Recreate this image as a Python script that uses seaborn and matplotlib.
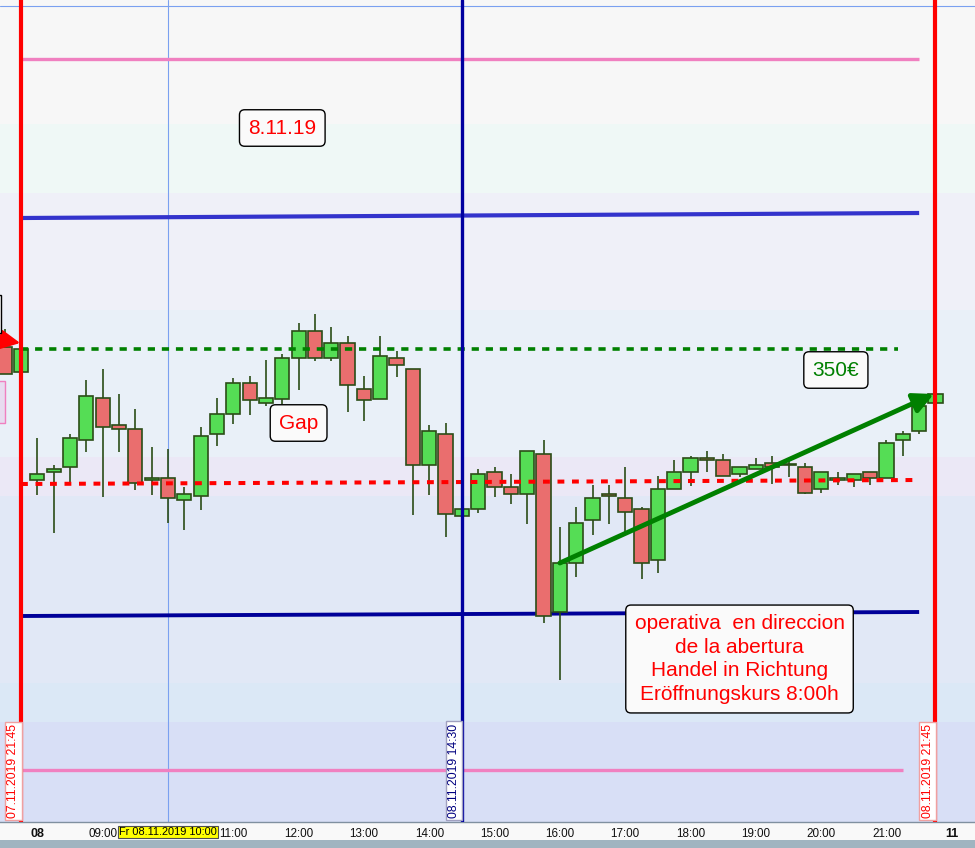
import matplotlib
matplotlib.use("Agg")
import matplotlib.pyplot as plt
import matplotlib.transforms as mtransforms
from matplotlib.patches import Rectangle
import seaborn as sns
import pandas as pd

sns.set_theme(style="white")
plt.rcParams['font.family'] = ['Liberation Sans', 'DejaVu Sans']

# 15 min candles: index 0 = 07.11.2019 21:45, index 1 = 08.11.2019 08:00 ... 56 = 08.11.2019 21:45
idx = list(range(-1, 57))
open_ = [13353, 13328, 13220, 13228, 13233, 13260, 13302, 13275, 13271, 13220,
         13222, 13200, 13204, 13266, 13286, 13317, 13297, 13301, 13342, 13369,
         13342, 13357, 13311, 13301, 13342, 13331, 13235, 13266, 13184, 13191,
         13228, 13213, 13206, 13246, 13088, 13137, 13180, 13206, 13202, 13191,
         13140, 13211, 13228, 13242, 13240, 13226, 13231, 13237, 13235, 13233,
         13211, 13220, 13220, 13228, 13222, 13260, 13269, 13297]
high = [13371, 13356, 13262, 13235, 13266, 13320, 13331, 13306, 13291, 13253,
        13251, 13213, 13273, 13302, 13322, 13324, 13340, 13346, 13377, 13386,
        13373, 13364, 13324, 13364, 13349, 13331, 13275, 13277, 13195, 13231,
        13233, 13226, 13249, 13260, 13173, 13193, 13215, 13215, 13233, 13193,
        13224, 13240, 13244, 13249, 13246, 13233, 13242, 13244, 13240, 13237,
        13228, 13228, 13226, 13228, 13260, 13269, 13300, 13306]
low = [13326, 13324, 13205, 13167, 13217, 13248, 13203, 13248, 13210, 13205,
       13177, 13170, 13190, 13254, 13276, 13285, 13294, 13296, 13310, 13339,
       13339, 13288, 13279, 13301, 13323, 13185, 13205, 13163, 13180, 13187,
       13203, 13196, 13176, 13077, 13020, 13123, 13165, 13176, 13168, 13121,
       13127, 13211, 13214, 13228, 13224, 13223, 13231, 13216, 13223, 13206,
       13207, 13215, 13213, 13215, 13222, 13244, 13266, 13296]
close = [13326, 13351, 13226, 13231, 13262, 13304, 13273, 13271, 13217, 13222,
         13202, 13206, 13264, 13286, 13317, 13300, 13302, 13342, 13369, 13342,
         13357, 13315, 13300, 13344, 13335, 13235, 13269, 13186, 13191, 13226,
         13213, 13206, 13249, 13084, 13137, 13177, 13202, 13204, 13188, 13137,
         13211, 13228, 13242, 13240, 13224, 13233, 13235, 13233, 13235, 13207,
         13228, 13222, 13226, 13222, 13257, 13266, 13294, 13306]

# background price bands
band_lo = [13576, 13507, 13390, 13243, 13204, 13017, 12978, 12878]
band_hi = [13700, 13576, 13507, 13390, 13243, 13204, 13017, 12978]
band_col = ['#f7f7f7', '#eff8f6', '#eff0f8', '#e9f0f8', '#ebe8f6', '#e1e8f6', '#dbe8f6', '#d8dff6']

tick_pos = [1, 5, 9, 13, 17, 21, 25, 29, 33, 37, 41, 45, 49, 53, 57]
tick_lab = ['08', '09:00', '', '11:00', '12:00', '13:00', '14:00', '15:00', '16:00',
            '17:00', '18:00', '19:00', '20:00', '21:00', '11']

df = pd.DataFrame({'i': idx, 'o': open_, 'h': high, 'l': low, 'c': close})
df['up'] = df['c'] >= df['o']

fig = plt.figure(figsize=(9.75, 8.48), dpi=100)
fig.patch.set_facecolor('#f9f9f9')
ax = fig.add_axes([0, 26 / 848, 1, 822 / 848])
ax.set_xlim(-1.286, 58.42)
ax.set_ylim(12878, 13700)

for lo, hi, col in zip(band_lo, band_hi, band_col):
    ax.axhspan(lo, hi, color=col, zorder=0, lw=0)

# crosshair
ax.axvline(9, color='#7aa0f0', lw=0.8, zorder=1)
ax.axhline(13694, color='#7aa0f0', lw=0.8, zorder=1)

# level lines
ax.plot([0, 55], [13641, 13641], color='#f080c0', lw=2.4, zorder=2, solid_capstyle='butt')
ax.plot([0, 55], [13482, 13487], color='#3333cc', lw=3, zorder=2, solid_capstyle='butt')
ax.plot([0, 55], [13084, 13088], color='#000099', lw=2.8, zorder=2, solid_capstyle='butt')
ax.plot([0, 54], [12930, 12930], color='#f080c0', lw=2.4, zorder=2, solid_capstyle='butt')

# candles
wick = '#2b4d17'
ax.vlines(df['i'], df['l'], df['h'], color=wick, lw=1.2, zorder=3)
bot = df[['o', 'c']].min(axis=1)
hgt = (df['c'] - df['o']).abs().clip(lower=1)
cols = ['#55dd55' if u else '#ea6e6e' for u in df['up']]
ax.bar(df['i'], hgt, bottom=bot, width=0.87, color=cols, edgecolor=wick, linewidth=1.2, zorder=4)

# dotted levels
ax.plot([0, 53.7], [13351, 13351], color='#008000', lw=2.6, ls=(0, (2, 1.9)), zorder=5)
ax.plot([0, 55], [13216, 13220], color='#ff0000', lw=2.9, ls=(0, (1.7, 1.9)), zorder=5)

# vertical session lines
ax.axvline(0, color='#ff0000', lw=3, zorder=6)
ax.axvline(27, color='#0000a0', lw=2.4, zorder=6)
ax.axvline(56, color='#ff0000', lw=3, zorder=6)

# arrows
ax.annotate('', xy=(55.9, 13306), xytext=(33, 13137),
            arrowprops=dict(arrowstyle='-|>,head_length=1.0,head_width=0.5', color='#008000', lw=3.5,
                            shrinkA=0, shrinkB=0), zorder=7)
ax.annotate('', xy=(-0.05, 13357), xytext=(-2.5, 13364),
            arrowprops=dict(arrowstyle='-|>,head_length=1.0,head_width=0.5', color='#ff0000', lw=2,
                            shrinkA=0, shrinkB=0), zorder=7)

# clipped boxes at left edge
ax.add_patch(Rectangle((-4, 13367), 2.8, 38, fc='#fafafa', ec='black', lw=1, zorder=7))
ax.add_patch(Rectangle((-4, 13277), 3.0, 42, fc='#e8dcf0', ec='#f080c0', lw=1, zorder=7))

box = dict(boxstyle='round,pad=0.42,rounding_size=0.25', fc='#fafafa', ec='black', lw=1)
ax.text(16, 13572, '8.11.19', color='#ff0000', fontsize=15, ha='center', va='center', bbox=box, zorder=8)
ax.text(17, 13277, 'Gap', color='#ff0000', fontsize=15, ha='center', va='center', bbox=box, zorder=8)
ax.text(49.9, 13330, '350€', color='#008000', fontsize=15, ha='center', va='center', bbox=box, zorder=8)
ax.text(44, 13041, 'operativa  en direccion\nde la abertura\nHandel in Richtung\nEröffnungskurs 8:00h',
        color='#ff0000', fontsize=15, ha='center', va='center', linespacing=1.32,
        bbox=dict(boxstyle='round,pad=0.42,rounding_size=0.25', fc='#fafafa', ec='black', lw=1), zorder=8)

# vertical date labels
ax.text(-0.1, 12882, '07.11.2019 21:45', rotation=90, color='#ff0000', fontsize=8.8, ha='right', va='bottom',
        bbox=dict(boxstyle='square,pad=0.2', fc='white', ec='#f0a0a0', lw=1), zorder=8)
ax.text(26.88, 12882, '08.11.2019 14:30', rotation=90, color='#000080', fontsize=8.8, ha='right', va='bottom',
        bbox=dict(boxstyle='square,pad=0.2', fc='white', ec='#a0a0c0', lw=1), zorder=8)
ax.text(55.88, 12882, '08.11.2019 21:45', rotation=90, color='#ff0000', fontsize=8.8, ha='right', va='bottom',
        bbox=dict(boxstyle='square,pad=0.2', fc='white', ec='#f0a0a0', lw=1), zorder=8)

# x axis
ax.set_yticks([])
ax.set_xticks(tick_pos)
ax.set_xticklabels(tick_lab, fontsize=8.4, color='#101010')
for lab in ax.get_xticklabels():
    if lab.get_text() in ('08', '11'):
        lab.set_fontweight('bold')
        lab.set_fontsize(9)
ax.tick_params(axis='x', direction='out', length=3, width=1, color='#303030', pad=1.5)
for s in ('top', 'right', 'left'):
    ax.spines[s].set_visible(False)
ax.spines['bottom'].set_color('#8090a0')
ax.spines['bottom'].set_linewidth(1)

trans = mtransforms.blended_transform_factory(ax.transData, ax.transAxes)
ax.text(9, -10 / 822, 'Fr 08.11.2019 10:00', transform=trans, fontsize=7.9, color='black',
        ha='center', va='center',
        bbox=dict(boxstyle='square,pad=0.12', fc='#ffff00', ec='#505050', lw=0.8), clip_on=False, zorder=9)

# bottom scroll bar
fig.patches.append(Rectangle((0, 0), 1, 8 / 848, transform=fig.transFigure, fc='#a0b4c0', ec='none'))

fig.savefig('out.png', dpi=100)
